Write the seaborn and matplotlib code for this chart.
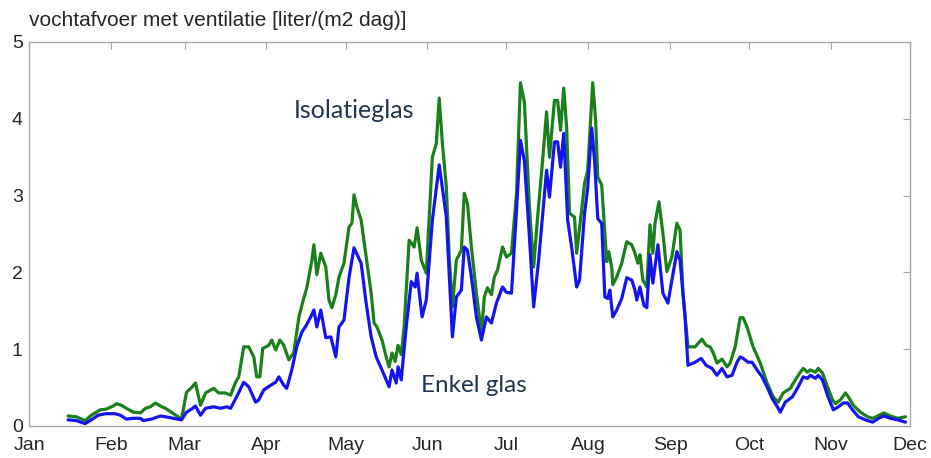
import pandas as pd
import numpy as np
import matplotlib
matplotlib.use('Agg')
import matplotlib.pyplot as plt
import seaborn as sns

# ------- Data (x = day of year) -------------------------------------------
iso_day = [14.8, 17.9, 21.3, 23.6, 27.0, 29.3, 31.9, 33.1, 35.0, 36.9,
           39.5, 42.2, 44.1, 46.0, 47.9, 49.8, 51.7, 54.8, 57.8, 59.7,
           61.6, 63.1, 65.0, 66.9, 70.0, 71.9, 74.5, 76.4, 78.3, 79.5,
           81.4, 83.3, 85.2, 86.3, 87.5, 88.6, 90.9, 92.0, 93.5, 95.1,
           96.6, 98.5, 100.4, 102.3, 104.2, 105.3, 107.2, 108.0, 109.1, 110.6,
           112.5, 113.7, 114.8, 116.3, 117.5, 119.4, 121.3, 122.4, 123.2, 124.3,
           125.9, 127.8, 129.7, 130.8, 131.9, 133.8, 135.4, 136.5, 137.6, 138.8,
           139.9, 141.1, 142.2, 144.1, 146.0, 147.1, 148.7, 150.6, 152.9, 154.4,
           155.5, 156.7, 158.2, 159.3, 160.5, 162.0, 163.9, 165.0, 166.2, 167.7,
           169.6, 171.5, 172.6, 173.8, 175.3, 176.4, 177.6, 179.5, 181.0, 182.9,
           184.8, 186.3, 187.8, 189.7, 191.3, 192.8, 194.7, 196.2, 197.3, 199.2,
           200.4, 201.5, 202.7, 203.8, 204.9, 206.8, 207.6, 209.5, 210.6, 211.8,
           213.7, 214.8, 215.6, 217.1, 218.3, 219.0, 219.8, 220.9, 221.3, 222.8,
           224.7, 226.6, 228.5, 229.7, 230.8, 231.6, 232.7, 234.2, 235.4, 236.5,
           237.3, 238.8, 240.3, 241.8, 243.7, 245.6, 246.8, 247.9, 249.8, 252.5,
           255.1, 256.7, 258.2, 259.3, 260.8, 262.7, 264.6, 265.8, 267.7, 269.6,
           270.7, 272.2, 274.5, 277.2, 279.8, 282.1, 284.0, 285.9, 288.6, 290.5,
           292.4, 293.5, 295.1, 296.2, 298.1, 299.2, 300.8, 302.7, 304.6, 305.7,
           307.6, 309.5, 310.6, 312.5, 315.2, 317.9, 319.8, 321.7, 324.0, 326.6,
           329.3, 332.3]
iso_val = [0.13, 0.12, 0.07, 0.14, 0.21, 0.22, 0.26, 0.29, 0.27, 0.23,
           0.18, 0.17, 0.23, 0.25, 0.30, 0.26, 0.23, 0.16, 0.09, 0.44,
           0.50, 0.56, 0.27, 0.43, 0.49, 0.43, 0.43, 0.40, 0.57, 0.64,
           1.03, 1.03, 0.90, 0.64, 0.64, 1.01, 1.05, 1.12, 0.99, 1.12,
           1.05, 0.86, 0.96, 1.42, 1.67, 1.80, 2.15, 2.36, 1.97, 2.25,
           2.07, 1.64, 1.54, 1.71, 1.94, 2.12, 2.59, 2.64, 3.01, 2.85,
           2.68, 2.20, 1.73, 1.34, 1.29, 1.12, 0.90, 0.77, 0.95, 0.84,
           1.05, 0.93, 1.29, 2.42, 2.33, 2.58, 2.16, 1.99, 3.50, 3.68,
           4.27, 3.68, 3.11, 2.20, 1.55, 2.16, 2.29, 3.03, 2.90, 2.33,
           1.73, 1.21, 1.68, 1.80, 1.71, 1.94, 2.03, 2.33, 2.20, 2.25,
           3.03, 4.47, 4.21, 2.85, 2.07, 2.72, 3.46, 4.09, 3.50, 4.24,
           4.24, 3.85, 4.40, 3.89, 2.77, 2.72, 2.25, 2.81, 3.16, 3.33,
           4.47, 3.98, 3.24, 3.14, 2.51, 2.14, 2.27, 2.06, 1.84, 1.94,
           2.12, 2.40, 2.36, 2.25, 2.12, 2.23, 1.90, 1.81, 2.62, 2.25,
           2.64, 2.92, 2.51, 2.01, 2.20, 2.64, 2.55, 1.73, 1.03, 1.03,
           1.13, 1.05, 1.03, 0.96, 0.82, 0.87, 0.77, 0.82, 1.03, 1.41,
           1.41, 1.29, 1.03, 0.82, 0.56, 0.38, 0.31, 0.43, 0.49, 0.60,
           0.70, 0.75, 0.70, 0.73, 0.70, 0.75, 0.69, 0.51, 0.34, 0.29,
           0.34, 0.43, 0.38, 0.27, 0.18, 0.12, 0.10, 0.13, 0.17, 0.13,
           0.10, 0.12]

enk_day = [14.8, 17.9, 21.3, 23.6, 26.2, 28.9, 32.7, 34.6, 36.9, 39.5,
           42.2, 43.3, 46.4, 49.8, 51.7, 54.8, 57.8, 59.7, 61.6, 63.1,
           65.0, 66.9, 70.0, 72.6, 74.9, 76.4, 78.7, 81.4, 83.3, 85.9,
           87.1, 89.0, 91.6, 93.5, 94.7, 96.6, 97.7, 99.6, 101.5, 103.4,
           104.9, 106.8, 108.0, 109.1, 110.6, 112.5, 114.4, 116.3, 117.5, 119.4,
           121.3, 123.2, 125.9, 127.8, 129.7, 131.6, 133.8, 135.4, 136.5, 137.6,
           139.2, 139.9, 141.1, 143.0, 144.9, 146.4, 147.1, 149.0, 150.6, 152.9,
           155.5, 158.2, 160.5, 162.0, 163.9, 165.0, 166.2, 167.7, 169.6, 171.5,
           173.4, 175.3, 177.2, 179.5, 181.0, 182.9, 184.8, 186.3, 187.8, 189.7,
           191.3, 193.2, 196.2, 197.3, 199.2, 200.4, 201.5, 202.7, 204.2, 205.7,
           207.6, 208.7, 210.6, 211.8, 213.3, 214.4, 215.6, 217.1, 218.3, 219.4,
           220.2, 221.3, 222.8, 224.7, 226.6, 228.5, 229.7, 230.4, 231.6, 233.1,
           234.2, 235.4, 236.5, 238.4, 240.3, 242.2, 245.6, 246.8, 248.7, 249.8,
           252.5, 254.8, 256.7, 258.9, 260.8, 262.7, 264.6, 266.5, 268.4, 269.6,
           270.7, 272.6, 274.1, 276.0, 277.9, 279.8, 281.7, 283.7, 284.8, 286.7,
           289.4, 291.6, 293.5, 295.1, 296.2, 298.1, 299.2, 300.8, 302.7, 304.9,
           306.8, 308.7, 310.3, 312.2, 314.4, 317.1, 319.8, 322.1, 324.0, 326.6,
           329.3, 332.3]
enk_val = [0.08, 0.07, 0.03, 0.08, 0.14, 0.16, 0.16, 0.14, 0.09, 0.10,
           0.10, 0.07, 0.09, 0.13, 0.12, 0.10, 0.08, 0.18, 0.22, 0.26,
           0.14, 0.23, 0.25, 0.23, 0.25, 0.23, 0.38, 0.57, 0.51, 0.31,
           0.34, 0.47, 0.53, 0.57, 0.64, 0.53, 0.49, 0.73, 1.03, 1.22,
           1.30, 1.42, 1.51, 1.29, 1.51, 1.15, 1.16, 0.90, 1.29, 1.38,
           1.93, 2.32, 2.12, 1.60, 1.16, 0.90, 0.73, 0.60, 0.51, 0.73,
           0.56, 0.77, 0.60, 1.29, 1.88, 1.81, 1.99, 1.42, 1.64, 2.68,
           3.40, 2.72, 1.16, 1.68, 1.77, 2.33, 2.29, 1.94, 1.42, 1.12,
           1.42, 1.34, 1.60, 1.81, 1.74, 1.73, 2.81, 3.72, 3.45, 2.46,
           1.55, 2.16, 3.33, 2.98, 3.70, 3.70, 3.37, 3.81, 2.68, 2.33,
           1.81, 1.90, 2.77, 3.10, 3.88, 3.46, 2.70, 2.64, 1.68, 1.66,
           1.77, 1.42, 1.51, 1.66, 1.93, 1.90, 1.77, 1.64, 1.81, 1.57,
           1.54, 2.23, 1.86, 2.36, 1.73, 1.60, 2.27, 2.16, 1.42, 0.79,
           0.83, 0.88, 0.79, 0.75, 0.66, 0.75, 0.64, 0.66, 0.83, 0.90,
           0.88, 0.83, 0.83, 0.73, 0.64, 0.51, 0.36, 0.25, 0.18, 0.31,
           0.38, 0.51, 0.64, 0.62, 0.66, 0.62, 0.66, 0.60, 0.40, 0.21,
           0.25, 0.30, 0.30, 0.21, 0.12, 0.08, 0.05, 0.10, 0.13, 0.10,
           0.08, 0.05]

month_days = [0, 31, 59, 90, 120, 151, 181, 212, 243, 273, 304, 334]
month_labels = ['Jan', 'Feb', 'Mar', 'Apr', 'May', 'Jun',
                'Jul', 'Aug', 'Sep', 'Oct', 'Nov', 'Dec']

df_iso = pd.DataFrame({'day': iso_day, 'val': iso_val})
df_enk = pd.DataFrame({'day': enk_day, 'val': enk_val})

GREEN = '#1a8019'
BLUE = '#1414f0'
TEXT_NAVY = '#1f3550'
EDGE = '#a6a6a6'

sns.set_style('white')
plt.rcParams['font.family'] = ['Liberation Sans', 'DejaVu Sans']

fig = plt.figure(figsize=(9.31, 4.58), dpi=100)
# axes box: x 29..910 px, y 42..426 px
ax = fig.add_axes([0.0312, 0.0699, 0.9463, 0.8384])

sns.lineplot(data=df_iso, x='day', y='val', ax=ax, color=GREEN, lw=2.3,
             estimator=None, sort=False)
sns.lineplot(data=df_enk, x='day', y='val', ax=ax, color=BLUE, lw=2.3,
             estimator=None, sort=False)

ax.set_xlim(0, 334)
ax.set_ylim(0, 5)
ax.set_xticks(month_days)
ax.set_xticklabels(month_labels)
ax.set_yticks([0, 1, 2, 3, 4, 5])
ax.set_xlabel('')
ax.set_ylabel('')
ax.tick_params(axis='both', direction='in', length=5, width=0.8, color=EDGE,
               top=True, right=True, labelsize=14)
ax.tick_params(axis='x', pad=8)
ax.tick_params(axis='y', pad=4.5)
for sp in ax.spines.values():
    sp.set_color(EDGE)
    sp.set_linewidth(1.0)

ax.text(0.0, 1.03, 'vochtafvoer met ventilatie [liter/(m2 dag)]',
        transform=ax.transAxes, ha='left', va='bottom', fontsize=15)

ax.text(100.4, 4.11, 'Isolatieglas', color=TEXT_NAVY, fontsize=18,
        family=['Lato', 'DejaVu Sans'], ha='left', va='center')
ax.text(148.5, 0.53, 'Enkel glas', color=TEXT_NAVY, fontsize=17.5,
        family=['Lato', 'DejaVu Sans'], ha='left', va='center')

plt.savefig('out.png', dpi=100)
plt.close()
print("Saved out.png")
